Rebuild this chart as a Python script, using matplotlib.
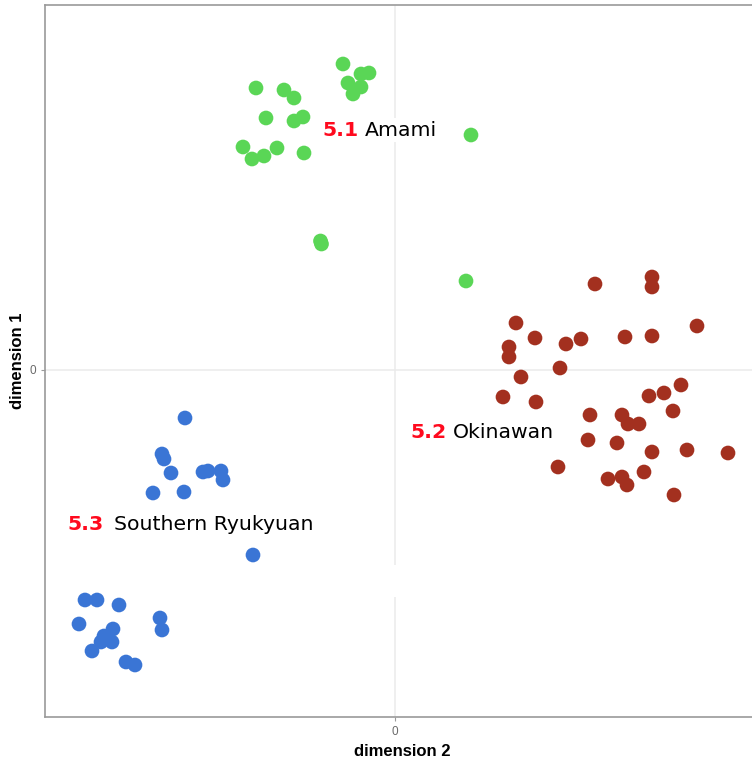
import matplotlib.pyplot as plt
from matplotlib.patches import Rectangle

# MDS coordinates per cluster (dimension 2 = x, dimension 1 = y)
amami_x = [-0.52, -0.34, -0.26, -0.47, -0.34, -0.42, -1.39, -1.11, -1.01, -1.29,
           -1.01, -0.92, -1.52, -1.43, -1.31, -1.18, -0.91, 0.76, -0.745, -0.735, 0.71]
amami_y = [3.06, 2.96, 2.97, 2.87, 2.83, 2.76, 2.82, 2.80, 2.72, 2.52,
           2.49, 2.53, 2.23, 2.11, 2.14, 2.22, 2.17, 2.35, 1.29, 1.26, 0.89]

okinawan_x = [2.00, 2.57, 2.57, 1.21, 3.02, 1.40, 1.71, 1.86, 2.30, 2.57,
              1.14, 1.14, 1.65, 1.26, 1.08, 1.41, 2.86, 2.69, 2.54, 1.95,
              2.27, 2.78, 2.33, 2.44, 1.93, 2.22, 2.57, 2.92, 3.33, 1.63,
              2.13, 2.27, 2.32, 2.49, 2.79]
okinawan_y = [0.86, 0.93, 0.83, 0.47, 0.44, 0.32, 0.26, 0.31, 0.33, 0.34,
              0.23, 0.13, 0.02, -0.07, -0.27, -0.32, -0.15, -0.23, -0.26, -0.45,
              -0.45, -0.41, -0.54, -0.54, -0.70, -0.73, -0.82, -0.80, -0.83, -0.97,
              -1.09, -1.07, -1.15, -1.02, -1.25]

southern_x = [-2.10, -2.33, -2.31, -2.24, -1.92, -1.87, -1.74, -1.72, -2.42, -2.11,
              -1.42, -3.10, -2.98, -2.76, -3.16, -2.35, -2.33, -2.82, -2.91, -2.94,
              -2.83, -3.03, -2.69, -2.60]
southern_y = [-0.48, -0.84, -0.89, -1.03, -1.02, -1.01, -1.01, -1.10, -1.23, -1.22,
              -1.85, -2.30, -2.30, -2.35, -2.54, -2.48, -2.60, -2.59, -2.66, -2.72,
              -2.72, -2.81, -2.92, -2.95]

cluster_ids = ["5.1", "5.2", "5.3"]
cluster_names = ["Amami", "Okinawan", "Southern Ryukyuan"]
# label anchor (left edge of the number) in data units
label_x = [-0.73, 0.15, -3.28]
label_y = [2.40, -0.63, -1.55]
name_dx = [0.43, 0.43, 0.47]

colors = ["#5ad656", "#a3301f", "#3a75d5"]

fig = plt.figure(figsize=(7.52, 7.60), dpi=100)
ax = fig.add_axes([45 / 752, 1 - 717 / 760, 715 / 752, 712 / 760])

for xs, ys, c in zip([amami_x, okinawan_x, southern_x],
                     [amami_y, okinawan_y, southern_y], colors):
    ax.scatter(xs, ys, s=112, color=c, edgecolors="none", zorder=3)

for cid, name, lx, ly, dx in zip(cluster_ids, cluster_names, label_x, label_y, name_dx):
    ax.text(lx, ly, cid, color="#ff0a1e", fontsize=14.7, fontweight="bold",
            ha="left", va="center", family="DejaVu Sans", zorder=4)
    ax.text(lx + dx, ly, name, color="black", fontsize=14.7,
            ha="left", va="center", family="DejaVu Sans", zorder=4,
            bbox=dict(facecolor="white", edgecolor="none", pad=2))

# empty label box that hides a bit of the grid line
ax.add_patch(Rectangle((-0.1, -2.27), 0.2, 0.32, facecolor="white",
                       edgecolor="none", zorder=2))

ax.set_xlim(-3.5, 3.65)
ax.set_ylim(-3.47, 3.65)
ax.set_xticks([0])
ax.set_yticks([0])
ax.set_xticklabels(["0"])
ax.set_yticklabels(["0"])
ax.grid(True, color="#ebebeb", linewidth=1.1, zorder=0)
ax.set_axisbelow(True)
ax.tick_params(colors="#9a9a9a", labelcolor="#6a6a6a", labelsize=8.5, length=3, width=0.8)
for sp in ax.spines.values():
    sp.set_color("#9a9a9a")
    sp.set_linewidth(1.2)

ax.set_xlabel("dimension 2", fontsize=12, fontweight="bold", family="Liberation Sans", labelpad=4)
ax.set_ylabel("dimension 1", fontsize=12, fontweight="bold", family="Liberation Sans", labelpad=3)
for t in ax.get_xticklabels() + ax.get_yticklabels():
    t.set_family("Liberation Sans")

plt.savefig("out.png", dpi=100)
